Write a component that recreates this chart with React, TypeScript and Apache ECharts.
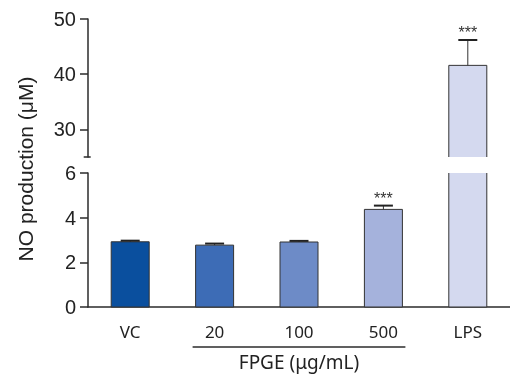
import React, { useEffect, useRef } from 'react';
import * as echarts from 'echarts';

const categories = ['VC', '20', '100', '500', 'LPS'];
const means = [2.92, 2.77, 2.91, 4.37, 41.6];
const errors = [0.05, 0.07, 0.05, 0.17, 4.6];
const significance = ['', '', '', '***', '***'];
const barColors = ['#0a4f9e', '#3d6cb6', '#6d8bc7', '#a5b2dc', '#d4d9ef'];
const lowerRange = [0, 6];
const lowerInterval = 2;
const upperRange = [25, 50];
const upperTicks = [30, 40, 50];
const groupMembers = ['20', '100', '500'];
const groupLabel = 'FPGE (μg/mL)';
const yTitle = 'NO production (μM)';

const AXIS = '#2b2b2b';
const TICKFONT = 'Liberation Sans';
const BAR_W = 38;

export default function App() {
  const ref = useRef<HTMLDivElement>(null);

  useEffect(() => {
    if (!ref.current) return;
    const chart = echarts.init(ref.current, null, { renderer: 'svg' });

    const upperIdx = means.map((v, i) => i).filter((i) => means[i] > upperRange[0]);
    const lowerIdx = means.map((v, i) => i).filter((i) => means[i] + errors[i] <= lowerRange[1]);

    const makeErr = (idxs: number[]) => ({
      type: 'custom',
      data: idxs.map((i) => [i, means[i], errors[i]]),
      z: 5,
      renderItem: (params: any, api: any) => {
        const i = idxs[params.dataIndex];
        const x = api.value(0);
        const y = api.value(1);
        const e = api.value(2);
        const base = api.coord([x, y]);
        const top = api.coord([x, y + e]);
        const children: any[] = [
          { type: 'line', shape: { x1: base[0], y1: base[1], x2: top[0], y2: top[1] }, style: { stroke: '#333', lineWidth: 1 } },
          { type: 'line', shape: { x1: top[0] - 9.5, y1: top[1], x2: top[0] + 9.5, y2: top[1] }, style: { stroke: '#222', lineWidth: 2 } },
        ];
        if (significance[i]) {
          children.push({
            type: 'text',
            x: top[0],
            y: top[1] + 1,
            style: { text: significance[i], align: 'center', verticalAlign: 'bottom', font: `16px ${TICKFONT}`, fill: '#333' },
          });
        }
        return { type: 'group', children };
      },
    });

    // bar outlines, left open where the bar is cut by an axis break
    const makeOutline = (idxs: number[], range: number[]) => ({
      type: 'custom',
      data: idxs.map((i) => [i, means[i]]),
      z: 4,
      renderItem: (params: any, api: any) => {
        const x = api.value(0);
        const v = api.value(1);
        const lo = Math.max(0, range[0]);
        const hi = Math.min(v, range[1]);
        const pLo = api.coord([x, lo]);
        const pHi = api.coord([x, hi]);
        const l = pLo[0] - BAR_W / 2;
        const r = pLo[0] + BAR_W / 2;
        const style = { stroke: '#333', lineWidth: 1, fill: null };
        const children: any[] = [
          { type: 'line', shape: { x1: l, y1: pLo[1], x2: l, y2: pHi[1] }, style },
          { type: 'line', shape: { x1: r, y1: pLo[1], x2: r, y2: pHi[1] }, style },
        ];
        if (v <= range[1]) children.push({ type: 'line', shape: { x1: l, y1: pHi[1], x2: r, y2: pHi[1] }, style });
        if (range[0] <= 0) children.push({ type: 'line', shape: { x1: l, y1: pLo[1], x2: r, y2: pLo[1] }, style });
        return { type: 'group', children };
      },
    });

    const yAxisCommon = {
      type: 'value',
      axisLine: { show: true, lineStyle: { color: AXIS, width: 1.5 } },
      axisTick: { show: true, length: 8, lineStyle: { color: AXIS, width: 1.5 } },
      axisLabel: { color: '#222', fontSize: 20, fontFamily: TICKFONT, margin: 12 },
      splitLine: { show: false },
    };

    const option: any = {
      animation: false,
      grid: [
        { left: 88, top: 19, width: 430, height: 138 },
        { left: 88, top: 173, width: 430, height: 134 },
      ],
      xAxis: [
        { gridIndex: 0, type: 'category', data: categories, show: false },
        {
          gridIndex: 1,
          type: 'category',
          data: categories,
          axisLine: { lineStyle: { color: AXIS, width: 1.5 } },
          axisTick: { length: 7, lineStyle: { color: AXIS, width: 1.5 } },
          axisLabel: { color: '#222', fontSize: 17, fontFamily: 'Noto Sans', margin: 16 },
        },
      ],
      yAxis: [
        {
          ...yAxisCommon,
          gridIndex: 0,
          min: upperRange[0],
          max: upperRange[1],
          axisTick: { ...yAxisCommon.axisTick, customValues: upperTicks },
          axisLabel: { ...yAxisCommon.axisLabel, customValues: upperTicks },
        },
        {
          ...yAxisCommon,
          gridIndex: 1,
          min: lowerRange[0],
          max: lowerRange[1],
          interval: lowerInterval,
        },
      ],
      series: [
        {
          type: 'bar',
          xAxisIndex: 0,
          yAxisIndex: 0,
          barWidth: BAR_W,
          data: means.map((v, i) => (v > upperRange[0] ? { value: v, itemStyle: { color: barColors[i] } } : '-')),
          itemStyle: { borderWidth: 0 },
        },
        {
          type: 'bar',
          xAxisIndex: 1,
          yAxisIndex: 1,
          barWidth: BAR_W,
          data: means.map((v, i) => ({ value: v, itemStyle: { color: barColors[i] } })),
          itemStyle: { borderWidth: 0 },
        },
        { ...makeOutline(upperIdx, upperRange), xAxisIndex: 0, yAxisIndex: 0 },
        { ...makeOutline(means.map((v, i) => i), lowerRange), xAxisIndex: 1, yAxisIndex: 1 },
        { ...makeErr(upperIdx), xAxisIndex: 0, yAxisIndex: 0 },
        { ...makeErr(lowerIdx), xAxisIndex: 1, yAxisIndex: 1 },
      ],
    };
    chart.setOption(option);

    const first = chart.convertToPixel({ xAxisIndex: 1 }, groupMembers[0]) as number;
    const last = chart.convertToPixel({ xAxisIndex: 1 }, groupMembers[groupMembers.length - 1]) as number;
    const axisX = (chart.convertToPixel({ xAxisIndex: 1 }, categories[0]) as number) - 43;
    const breakY = chart.convertToPixel({ yAxisIndex: 0 }, upperRange[0]) as number;

    chart.setOption({
      graphic: [
        {
          type: 'text',
          x: 25,
          y: 169,
          rotation: Math.PI / 2,
          style: { text: yTitle, align: 'center', verticalAlign: 'middle', font: `21px ${TICKFONT}`, fill: '#222' },
        },
        {
          type: 'line',
          shape: { x1: first - 22, y1: 347, x2: last + 22, y2: 347 },
          style: { stroke: AXIS, lineWidth: 1.5 },
        },
        {
          type: 'text',
          x: (first + last) / 2,
          y: 362,
          style: { text: groupLabel, align: 'center', verticalAlign: 'middle', font: '19px Noto Sans', fill: '#222' },
        },
        {
          type: 'line',
          shape: { x1: axisX - 3.5, y1: breakY, x2: axisX + 3.5, y2: breakY },
          style: { stroke: AXIS, lineWidth: 1.5 },
        },
      ],
    });

    return () => chart.dispose();
  }, []);

  return <div ref={ref} style={{ position: 'fixed', left: 0, top: 0, width: 510, height: 380 }} />;
}
